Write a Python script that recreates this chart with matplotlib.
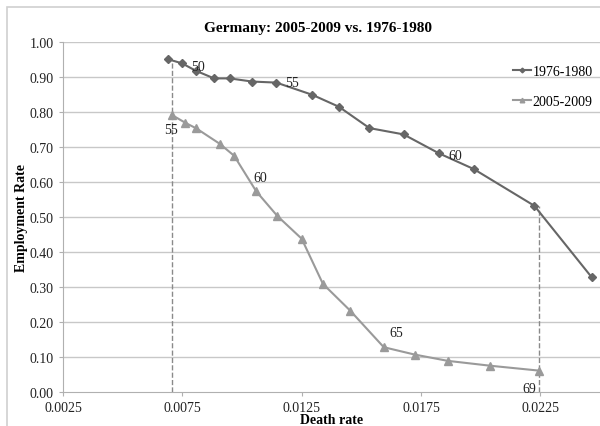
import matplotlib.pyplot as plt
from matplotlib.patches import Rectangle

# Death rate vs employment rate
death_7680 = [0.00689, 0.00749, 0.00806, 0.00883, 0.00949, 0.01042, 0.01144, 0.01295,
              0.01406, 0.01534, 0.01677, 0.01825, 0.01971, 0.02225, 0.02465]
emp_7680 = [0.951, 0.939, 0.918, 0.896, 0.896, 0.887, 0.884, 0.849,
            0.815, 0.754, 0.736, 0.682, 0.637, 0.532, 0.328]

death_0509 = [0.00705, 0.00763, 0.00809, 0.00907, 0.00967, 0.01060, 0.01148, 0.01250,
              0.01339, 0.01454, 0.01594, 0.01723, 0.01862, 0.02041, 0.02246]
emp_0509 = [0.792, 0.769, 0.753, 0.709, 0.675, 0.573, 0.503, 0.438,
            0.309, 0.232, 0.128, 0.107, 0.089, 0.075, 0.061]

# age annotations: (text, x, y) - centre of the label
age_labels = [("50", 0.00815, 0.931), ("55", 0.01208, 0.883), ("60", 0.01894, 0.677),
              ("55", 0.00702, 0.749), ("60", 0.01078, 0.614), ("65", 0.01647, 0.171),
              ("69", 0.02204, 0.009)]

xticks = [0.0025, 0.0075, 0.0125, 0.0175, 0.0225]
yticks = [0.0, 0.1, 0.2, 0.3, 0.4, 0.5, 0.6, 0.7, 0.8, 0.9, 1.0]

plt.rcParams['font.family'] = ['Liberation Serif', 'DejaVu Serif']

fig = plt.figure(figsize=(6, 4.27), dpi=100)
fig.patches.append(Rectangle((7 / 600, -0.1), 1.2, 1 - 8 / 427 + 0.1, transform=fig.transFigure,
                             fill=False, edgecolor='#d0d0d0', linewidth=1.2))
ax = fig.add_axes([63 / 600, 1 - 393 / 427, 537 / 600, 350 / 427])

for y in yticks[1:]:
    ax.axhline(y, color='#c8c8c8', linewidth=1.0, zorder=0)

# dashed guide lines
ax.plot([death_0509[0], death_0509[0]], [0, emp_7680[0] - 0.01], ls='--', color='#8a8a8a', lw=1.0)
ax.plot([death_0509[-1], death_0509[-1]], [0, emp_7680[-2]], ls='--', color='#8a8a8a', lw=1.0)

ax.plot(death_7680, emp_7680, color='#666666', lw=1.5, marker='D', markersize=4,
        label='1976-1980')
ax.plot(death_0509, emp_0509, color='#9a9a9a', lw=1.5, marker='^', markersize=5.5,
        label='2005-2009')

for txt, x, y in age_labels:
    ax.text(x, y, txt, fontsize=10, ha='center', va='center', color='#222222')

ax.set_xlim(0.0025, 0.025)
ax.set_ylim(0, 1.0)
ax.set_xticks(xticks)
ax.set_xticklabels([f"{v:.4f}" for v in xticks])
ax.set_yticks(yticks)
ax.set_yticklabels([f"{v:.2f}" for v in yticks])
ax.tick_params(labelsize=10, colors='#222222', length=3, color='#b0b0b0')

for s in ['top', 'right']:
    ax.spines[s].set_visible(False)
for s in ['left', 'bottom']:
    ax.spines[s].set_color('#b0b0b0')

ax.set_title("Germany: 2005-2009 vs. 1976-1980", fontsize=11, fontweight='bold',
             x=0.475, pad=8)
ax.set_xlabel("Death rate", fontsize=10, fontweight='bold', labelpad=-1)
ax.set_ylabel("Employment Rate", fontsize=10, fontweight='bold', labelpad=1)

ax.legend(loc='upper right', bbox_to_anchor=(1.01, 0.97), frameon=False, fontsize=10,
          handlelength=1.3, handletextpad=0.1, labelspacing=1.2, markerscale=0.6)

fig.savefig('out.png', dpi=100)
